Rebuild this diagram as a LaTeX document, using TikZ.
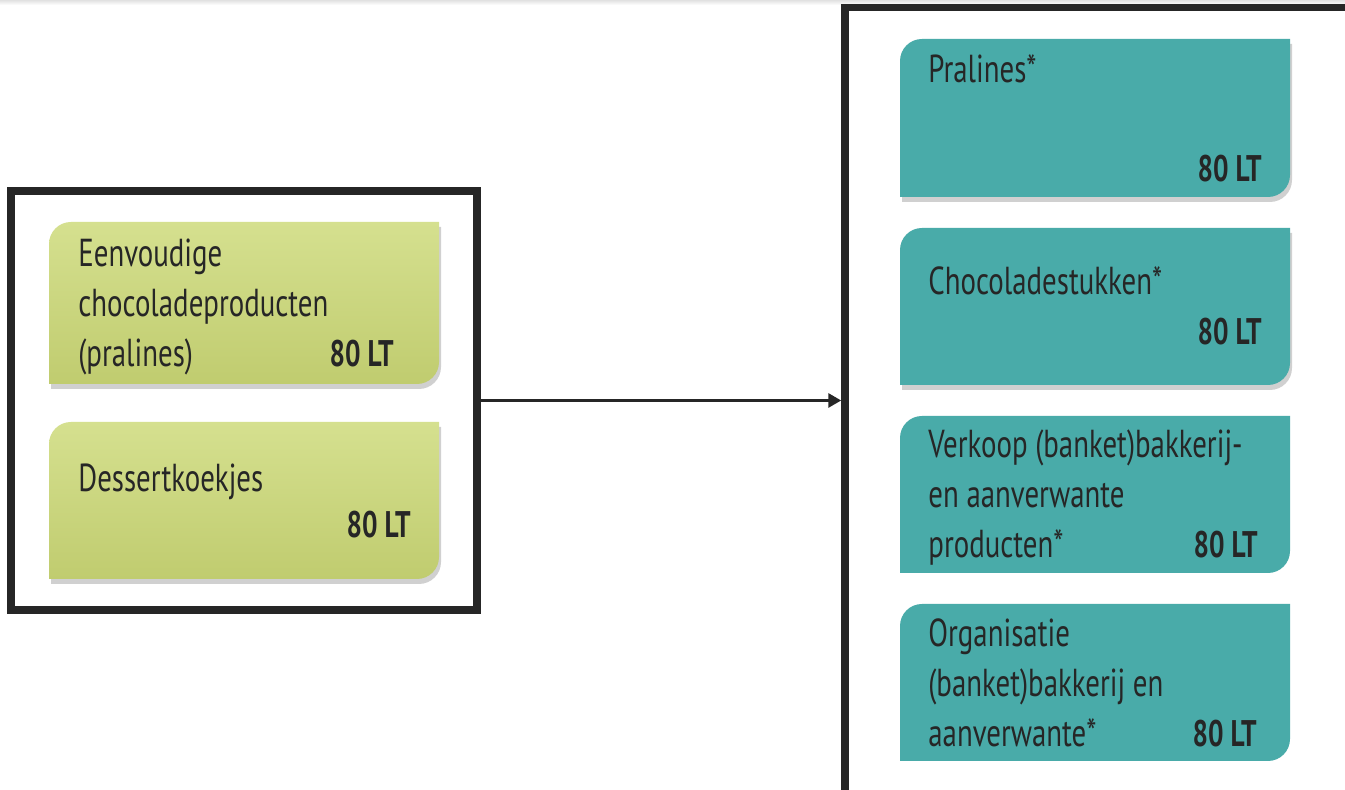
\documentclass[tikz,border=0pt]{standalone}
\usepackage{fontspec}
\setmainfont[FakeStretch=0.74]{PT Sans}
\usepackage{xcolor}
\usetikzlibrary{arrows.meta, shadows}

\definecolor{framegray}{HTML}{262626}
\definecolor{limetop}{HTML}{D5E08F}
\definecolor{limebottom}{HTML}{C0CC6F}
\definecolor{tealfill}{HTML}{49ABA9}

% tile outline: rounded top left and bottom right corners
\newcommand{\tileshape}[2]{%
  \path[#2] (#1.south west) -- ([yshift=-11pt]#1.north west)
    arc[start angle=180,end angle=90,radius=11pt] -- (#1.north east)
    -- ([yshift=11pt]#1.south east)
    arc[start angle=0,end angle=-90,radius=11pt] -- cycle;}

\begin{document}
\begin{tikzpicture}[x=0.5pt,y=0.5pt,
  frame/.style={draw=framegray,line width=3.75pt,inner sep=0pt},
  tile/.style={inner sep=0pt,outer sep=0pt,minimum width=195pt},
  lbl/.style={font=\fontsize{19.5}{25}\selectfont,text=framegray,
              align=left,inner sep=0pt,anchor=base west},
  amount/.style={font=\fontsize{18.5}{20}\selectfont\bfseries,
                 text=framegray,inner sep=0pt,anchor=base east},
  tshadow/.style={drop shadow={shadow xshift=1pt,shadow yshift=-2.5pt,
                  opacity=0.3,fill=black!60}}]
  \useasboundingbox (0,0) rectangle (1345,790);
  \clip (0,0) rectangle (1345,790);
  \fill[white] (0,0) rectangle (1345,790);
  \shade[top color=black!12,bottom color=white] (0,790) rectangle (1345,785);

  % left group
  \node[frame,minimum width=233pt,minimum height=209.5pt] (lbox) at (244,389.5){};
  \node[tile,minimum height=81pt] (g1) at (244,487){};
  \node[tile,minimum height=78.5pt] (g2) at (244,289.5){};
  \tileshape{g1}{tshadow,top color=limetop,bottom color=limebottom}
  \tileshape{g2}{tshadow,top color=limetop,bottom color=limebottom}
  % multi-line labels sit on the baseline of their last line
  \node[lbl] (g1txt) at (78,423)
       {Eenvoudige\\chocoladeproducten\\(pralines)};
  \node[amount] (g1amt) at (394,423){80 LT};
  \node[lbl] (g2txt) at (78,298){Dessertkoekjes};
  \node[amount] (g2amt) at (411,252){80 LT};

  % right group
  \node[frame,minimum width=280pt,minimum height=396.25pt] (rbox) at (1125,386.25){};
  \node[tile,minimum height=79pt] (t1) at (1095,672){};
  \node[tile,minimum height=78.5pt] (t2) at (1095,483.5){};
  \node[tile,minimum height=78.5pt] (t3) at (1095,295.5){};
  \node[tile,minimum height=78.5pt] (t4) at (1095,107.5){};
  \tileshape{t1}{tshadow,fill=tealfill}
  \tileshape{t2}{tshadow,fill=tealfill}
  \tileshape{t3}{fill=tealfill}
  \tileshape{t4}{fill=tealfill}
  \node[lbl] (t1txt) at (928,707){Pralines*};
  \node[amount] (t1amt) at (1262,608){80 LT};
  \node[lbl] (t2txt) at (928,495){Chocoladestukken*};
  \node[amount] (t2amt) at (1262,445){80 LT};
  \node[lbl] (t3txt) at (928,232)
       {Verkoop (banket)bakkerij-\\en aanverwante\\producten*};
  \node[amount] (t3amt) at (1258,232){80 LT};
  \node[lbl] (t4txt) at (928,43)
       {Organisatie\\(banket)bakkerij en\\aanverwante*};
  \node[amount] (t4amt) at (1257,43){80 LT};

  \draw[framegray,line width=1.5pt,-{Triangle[length=6.5pt,width=7pt]}]
       (lbox.east) -- (lbox.east -| rbox.west);
\end{tikzpicture}
\end{document}
